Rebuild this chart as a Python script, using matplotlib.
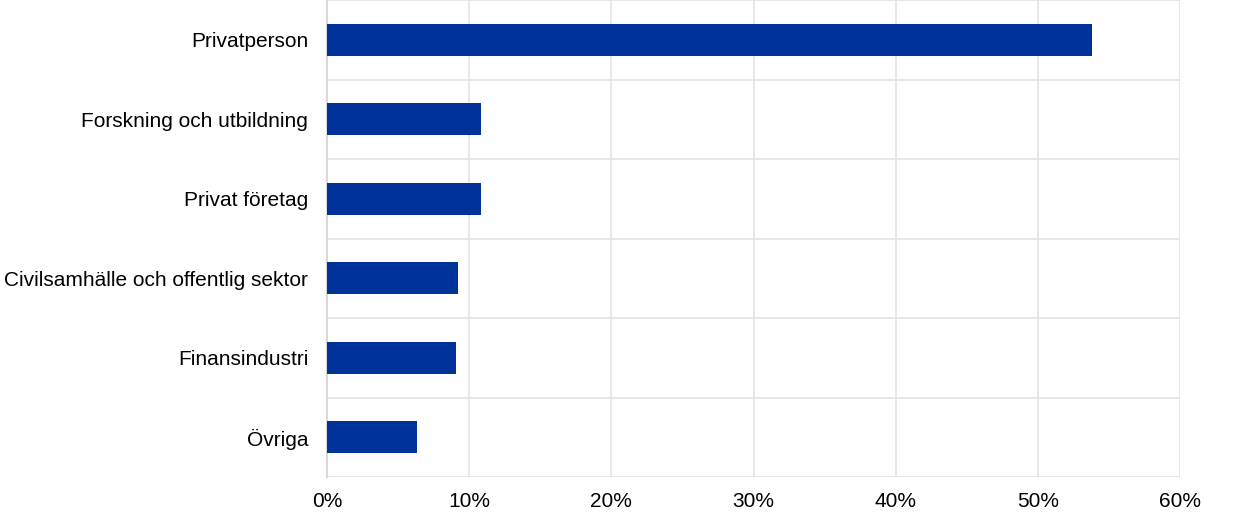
import matplotlib.pyplot as plt
import numpy as np

categories = ["Privatperson", "Forskning och utbildning", "Privat företag",
              "Civilsamhälle och offentlig sektor", "Finansindustri", "Övriga"]
values = [53.8, 10.8, 10.8, 9.2, 9.1, 6.3]
xticks = [0, 10, 20, 30, 40, 50, 60]

plt.rcParams['font.family'] = ['Liberation Sans', 'DejaVu Sans']

fig = plt.figure(figsize=(12.4, 5.19), dpi=100)
ax = fig.add_axes([327 / 1240, 1 - 477 / 519, (1180 - 327) / 1240, 477 / 519])

y = np.arange(len(categories))
ax.barh(y, values, height=0.4, color="#003399", zorder=3)

ax.set_xlim(0, 60)
ax.set_ylim(len(categories) - 0.5, -0.5)
ax.set_xticks(xticks)
ax.set_xticklabels([f"{t}%" for t in xticks], fontsize=15)
ax.set_yticks(y)
ax.set_yticklabels(categories, fontsize=15)
ax.set_yticks(np.arange(-0.5, len(categories) + 0.5, 1), minor=True)

ax.grid(axis="x", which="major", color="#e3e3e3", linewidth=1.2, zorder=0)
ax.grid(axis="y", which="minor", color="#e3e3e3", linewidth=1.2, zorder=0)
ax.tick_params(axis="both", which="both", length=0)
ax.tick_params(axis="x", pad=10.5)
ax.tick_params(axis="y", pad=13.5)

for side in ["top", "right", "bottom"]:
    ax.spines[side].set_visible(False)
ax.spines["left"].set_color("#d9d9d9")
ax.spines["left"].set_linewidth(1.5)

fig.savefig("out.png", dpi=100)
